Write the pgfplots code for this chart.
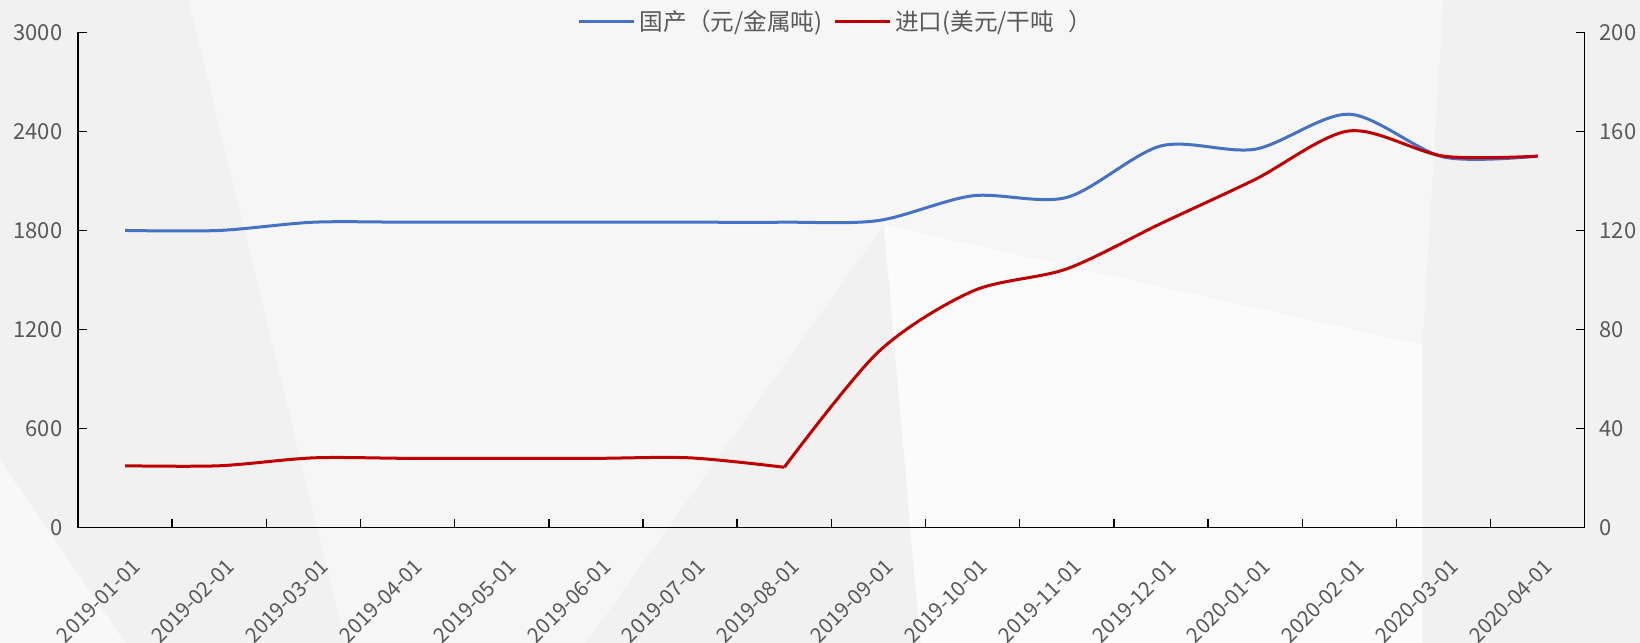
\documentclass[border=0pt]{standalone}
\usepackage{pgfplots}
\pgfplotsset{compat=1.18}
\usepackage{fontspec}
\setmainfont{Noto Sans CJK SC}
\definecolor{tickgray}{HTML}{595959}
\definecolor{bluel}{HTML}{4472C4}
\definecolor{redl}{HTML}{C00000}
\definecolor{bg0}{HTML}{F1F1F1}
\definecolor{bg1}{HTML}{F6F6F6}
\definecolor{bg2}{HTML}{FBFBFB}
\definecolor{bg3}{HTML}{F8F8F8}
\pgfplotstableread{
x dom imp
0 1800 25
1 1800 25
2 1850 28.2
3 1850 28
4 1850 28
5 1850 28
6 1850 28.2
7 1850 24.4
8 1860 71
9 2010 95.5
10 2000 104.5
11 2312 122.8
12 2292 140.6
13 2504 160.2
14 2245 150
15 2250 150
}\datatable
\begin{document}
\begin{tikzpicture}
\path[use as bounding box, fill=bg0] (0,0) rectangle (820bp,321.5bp);
\begin{scope}[shift={(0bp,321.5bp)}, x=0.523bp, y=-0.523bp]
\fill[bg1] (180,0) -- (1380,0) -- (1360,330) -- (845,215) -- (560,615) -- (330,615) -- cycle;
\fill[bg2] (845,215) -- (1360,330) -- (1360,615) -- (880,615) -- cycle;
\fill[bg3] (0,440) -- (120,615) -- (0,615) -- cycle;
\end{scope}
\pgfplotsset{
  every axis/.append style={
    at={(39bp,57.65bp)}, anchor=south west,
    scale only axis, width=753.35bp, height=247.7bp,
    xmin=-0.5, xmax=15.5,
    tick align=inside,
    axis line style={black, line width=0.7bp},
    tick style={black, line width=0.7bp},
    major tick length=4.5bp,
    minor tick length=4.5bp,
    tick label style={font=\fontsize{11bp}{13bp}\selectfont, text=tickgray},
    /pgf/number format/assume math mode=true,
    scaled ticks=false,
  }
}
\begin{axis}[
  axis y line*=left, axis x line*=bottom,
  ymin=0, ymax=3000, ytick={0,600,...,3000},
  yticklabel style={xshift=-4.3bp},
  /pgf/number format/1000 sep={},
  xtick={0,...,15},
  xticklabels={2019-01-01,2019-02-01,2019-03-01,2019-04-01,2019-05-01,2019-06-01,2019-07-01,2019-08-01,2019-09-01,2019-10-01,2019-11-01,2019-12-01,2020-01-01,2020-02-01,2020-03-01,2020-04-01},
  major x tick style={draw=none},
  minor xtick={-0.5,0.5,...,15.5},
  xticklabel style={xshift=2.8bp, yshift=-14.8bp, rotate=45, anchor=north east, inner sep=0pt, font=\fontsize{10.4bp}{12bp}\selectfont},
]
\addplot[bluel, line width=1.5bp, smooth, no markers] table[x=x, y=dom] {\datatable};
\end{axis}
\begin{axis}[
  axis y line*=right, axis x line=none,
  ymin=0, ymax=200, ytick={0,40,...,200},
  yticklabel style={xshift=4bp},
  legend columns=2,
  legend style={draw=none, fill=none, at={(0.5,1)}, anchor=center, xshift=2.7bp, yshift=5.2bp,
    font=\fontsize{11.8bp}{13bp}\selectfont, text=tickgray, inner sep=0pt,
    /tikz/every even column/.append style={column sep=3.5bp},
    /tikz/every odd column/.append style={column sep=0pt}},
  legend image code/.code={\draw[#1] (0bp,0bp) -- (27.5bp,0bp);},
]
\addlegendimage{bluel, line width=1.5bp}
\addlegendentry{国产（元/金属吨)}
\addplot[redl, line width=1.5bp, smooth, no markers, restrict x to domain=0:7] table[x=x, y=imp] {\datatable};
\addlegendentry{进口(美元/干吨\hspace{7bp}）}
\addplot[redl, line width=1.5bp, smooth, no markers, restrict x to domain=7:15, forget plot] table[x=x, y=imp] {\datatable};
\end{axis}
\end{tikzpicture}
\end{document}
